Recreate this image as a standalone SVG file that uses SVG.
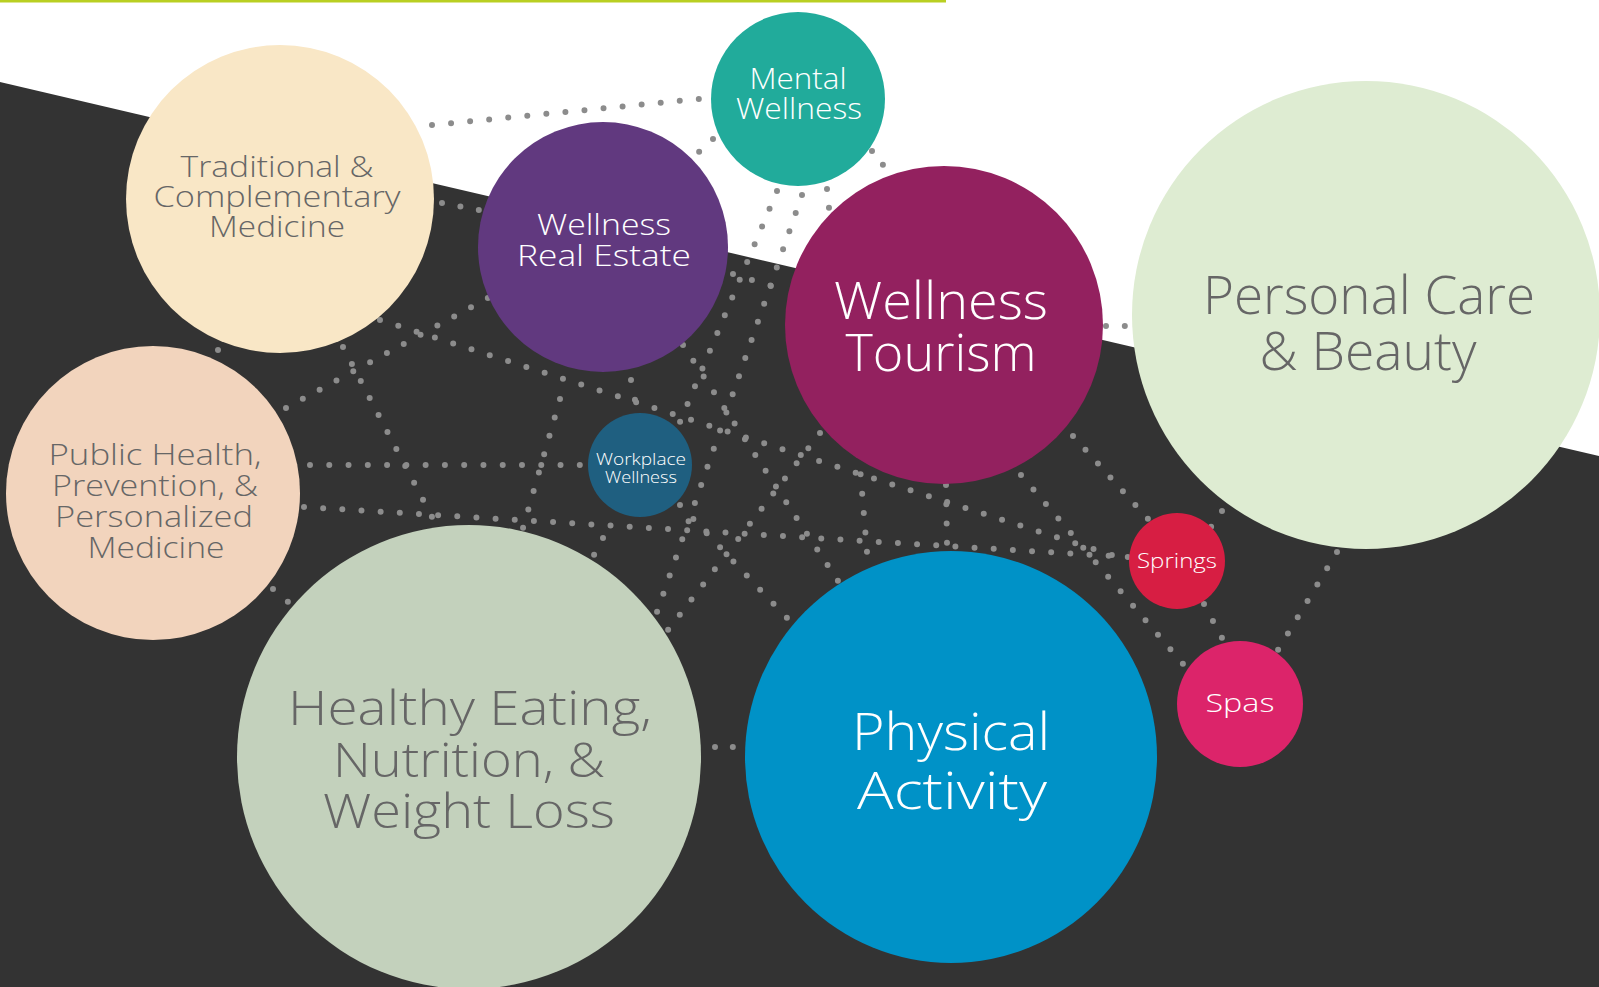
<svg xmlns="http://www.w3.org/2000/svg" width="1599" height="987" viewBox="0 0 1599 987">
<style>
  text{font-family:"Open Sans","Liberation Sans",sans-serif;text-anchor:middle;font-weight:300}
  .g{fill:#666666}
  .w{fill:#ffffff}
  .c path{fill:none;stroke:#8c8c8c;stroke-width:6;stroke-linecap:round;stroke-dasharray:0 1}
</style>
<rect x="0" y="0" width="1599" height="987" fill="#ffffff"/>
<polygon points="0,82 1599,456 1599,987 0,987" fill="#333333"/>
<rect x="0" y="0" width="946" height="2.5" fill="#b9cf22"/>
<g id="connectors" class="c">
  <path d="M432 125 L699 99" pathLength="14.01"/>
  <path d="M442 203 L479 210" pathLength="2.01"/>
  <path d="M713 139 L699 152" pathLength="1.01"/>
  <path d="M827 189 L829 208" pathLength="1.01"/>
  <path d="M872 151 L883 165" pathLength="1.01"/>
  <path d="M777 191 L680 422" pathLength="13.01"/>
  <path d="M802 195 L657 612" pathLength="23.01"/>
  <path d="M733 274 L771 286" pathLength="2.01"/>
  <path d="M310 465 L580 465" pathLength="14.01"/>
  <path d="M304 507 L1128 557" pathLength="43.01"/>
  <path d="M380 320 L1112 555" pathLength="40.01"/>
  <path d="M286 408 L488 298" pathLength="12.01"/>
  <path d="M343 347 L432 517" pathLength="10.01"/>
  <path d="M560 399 L523 528" pathLength="7.01"/>
  <path d="M631 380 L635 400" pathLength="1.01"/>
  <path d="M603 538 L594 555" pathLength="1.01"/>
  <path d="M820 433 L668 630" pathLength="13.01"/>
  <path d="M683 345 L838 581" pathLength="15.01"/>
  <path d="M680 505 L787 618" pathLength="8.01"/>
  <path d="M859 455 L867 552" pathLength="5.01"/>
  <path d="M946 485 L947 543" pathLength="3.01"/>
  <path d="M1073 436 L1148 519" pathLength="6.01"/>
  <path d="M1021 475 L1183 664" pathLength="13.01"/>
  <path d="M1222 511 L1211 527" pathLength="1.01"/>
  <path d="M1337 552 L1278 650" pathLength="6.01"/>
  <path d="M1204 604 L1222 638" pathLength="2.01"/>
  <path d="M1106 326 L1125 326" pathLength="1.01"/>
  <path d="M715 747 L733 747" pathLength="1.01"/>
  <path d="M273 589 L288 602" pathLength="1.01"/>
  <circle cx="218" cy="350" r="3" fill="#8c8c8c"/>
</g>
<g id="node-traditional">
  <circle cx="280" cy="199" r="154" fill="#f9e7c6"/>
  <text class="g" font-size="30"><tspan x="277" y="177" textLength="193" lengthAdjust="spacingAndGlyphs">Traditional &amp;</tspan><tspan x="277" y="207" textLength="247" lengthAdjust="spacingAndGlyphs">Complementary</tspan><tspan x="277" y="237" textLength="136" lengthAdjust="spacingAndGlyphs">Medicine</tspan></text>
</g>
<g id="node-mental">
  <circle cx="798" cy="99" r="87" fill="#21ab9b"/>
  <text class="w" font-size="30"><tspan x="798" y="89" textLength="97" lengthAdjust="spacingAndGlyphs">Mental</tspan><tspan x="799" y="119" textLength="126" lengthAdjust="spacingAndGlyphs">Wellness</tspan></text>
</g>
<g id="node-realestate">
  <circle cx="603" cy="247" r="125" fill="#61397f"/>
  <text class="w" font-size="30"><tspan x="604" y="235" textLength="134" lengthAdjust="spacingAndGlyphs">Wellness</tspan><tspan x="604" y="266" textLength="174" lengthAdjust="spacingAndGlyphs">Real Estate</tspan></text>
</g>
<g id="node-tourism">
  <circle cx="944" cy="325" r="159" fill="#93215f"/>
  <text class="w" font-size="52"><tspan x="941" y="319" textLength="214" lengthAdjust="spacingAndGlyphs">Wellness</tspan><tspan x="941" y="371" textLength="191" lengthAdjust="spacingAndGlyphs">Tourism</tspan></text>
</g>
<g id="node-personalcare">
  <circle cx="1366" cy="315" r="234" fill="#deecd2"/>
  <text class="g" font-size="53"><tspan x="1369" y="314" textLength="332" lengthAdjust="spacingAndGlyphs">Personal Care</tspan><tspan x="1368" y="370" textLength="217" lengthAdjust="spacingAndGlyphs">&amp; Beauty</tspan></text>
</g>
<g id="node-publichealth">
  <circle cx="153" cy="493" r="147" fill="#f2d4bd"/>
  <text class="g" font-size="29"><tspan x="155" y="465" textLength="213" lengthAdjust="spacingAndGlyphs">Public Health,</tspan><tspan x="155" y="496" textLength="206" lengthAdjust="spacingAndGlyphs">Prevention, &amp;</tspan><tspan x="154" y="527" textLength="198" lengthAdjust="spacingAndGlyphs">Personalized</tspan><tspan x="156" y="558" textLength="137" lengthAdjust="spacingAndGlyphs">Medicine</tspan></text>
</g>
<g id="node-workplace">
  <circle cx="640" cy="465" r="52" fill="#1f5f80"/>
  <text class="w" font-size="16"><tspan x="641" y="465" textLength="90" lengthAdjust="spacingAndGlyphs">Workplace</tspan><tspan x="641" y="483" textLength="72" lengthAdjust="spacingAndGlyphs">Wellness</tspan></text>
</g>
<g id="node-healthyeating">
  <circle cx="469" cy="757" r="232" fill="#c3d1bc"/>
  <text class="g" font-size="47"><tspan x="470" y="725" textLength="364" lengthAdjust="spacingAndGlyphs">Healthy Eating,</tspan><tspan x="469" y="777" textLength="272" lengthAdjust="spacingAndGlyphs">Nutrition, &amp;</tspan><tspan x="469" y="828" textLength="292" lengthAdjust="spacingAndGlyphs">Weight Loss</tspan></text>
</g>
<g id="node-physical">
  <circle cx="951" cy="757" r="206" fill="#0092c7"/>
  <text class="w" font-size="52"><tspan x="951" y="750" textLength="198" lengthAdjust="spacingAndGlyphs">Physical</tspan><tspan x="952" y="809" textLength="190" lengthAdjust="spacingAndGlyphs">Activity</tspan></text>
</g>
<g id="node-springs">
  <circle cx="1177" cy="561" r="48" fill="#d71e43"/>
  <text class="w" font-size="21" x="1177" y="568" textLength="80" lengthAdjust="spacingAndGlyphs">Springs</text>
</g>
<g id="node-spas">
  <circle cx="1240" cy="704" r="63" fill="#dc246a"/>
  <text class="w" font-size="25" x="1240" y="712" textLength="69" lengthAdjust="spacingAndGlyphs">Spas</text>
</g>
</svg>
